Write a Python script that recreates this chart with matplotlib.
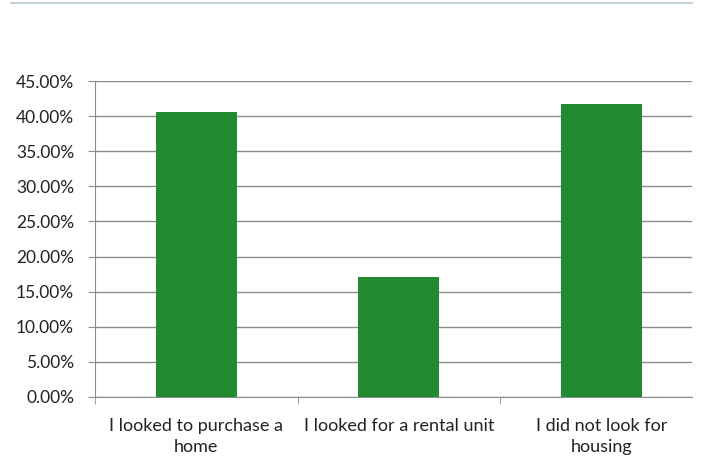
import numpy as np
import matplotlib.pyplot as plt
from matplotlib.lines import Line2D
from matplotlib.ticker import PercentFormatter

plt.rcParams['font.family'] = ['Lato', 'DejaVu Sans']

categories = ['I looked to purchase a\nhome', 'I looked for a rental unit', 'I did not look for\nhousing']
shares = [40.6, 17.1, 41.8]  # percent of respondents

fig = plt.figure(figsize=(7.03, 4.61), dpi=100)
ax = fig.add_axes([0.135, 0.139, 0.849, 0.685])

x = np.arange(len(categories))
ax.bar(x, shares, width=0.4, color='#228B32', zorder=3)

# the plot area stops a little short of the last category's right edge
ax.set_xlim(-0.5, 2.445)
ax.set_ylim(0, 45)
ax.set_yticks(np.arange(0, 46, 5))
ax.yaxis.set_major_formatter(PercentFormatter(decimals=2))
ax.grid(axis='y', color='#8c8c8c', linewidth=1.0, zorder=0)

# category labels centred, tick marks on the category boundaries
ax.set_xticks(x)
ax.set_xticklabels(categories, fontsize=13, color='#222222', linespacing=1.4)
ax.tick_params(axis='x', length=0, pad=15)
ax.set_xticks(np.arange(-0.5, len(categories) - 0.5, 1), minor=True)
ax.tick_params(axis='x', which='minor', length=5, color='#8c8c8c')
ax.tick_params(axis='y', length=5, color='#8c8c8c', labelsize=12.5, labelcolor='#222222', pad=10)

for side in ['top', 'right']:
    ax.spines[side].set_visible(False)
ax.spines['left'].set_color('#8c8c8c')
ax.spines['bottom'].set_color('#8c8c8c')

# thin rule along the top of the page
fig.add_artist(Line2D([0.015, 0.985], [0.993, 0.993], color='#b8c8d4', linewidth=1.2))

fig.savefig('out.png', dpi=100)
